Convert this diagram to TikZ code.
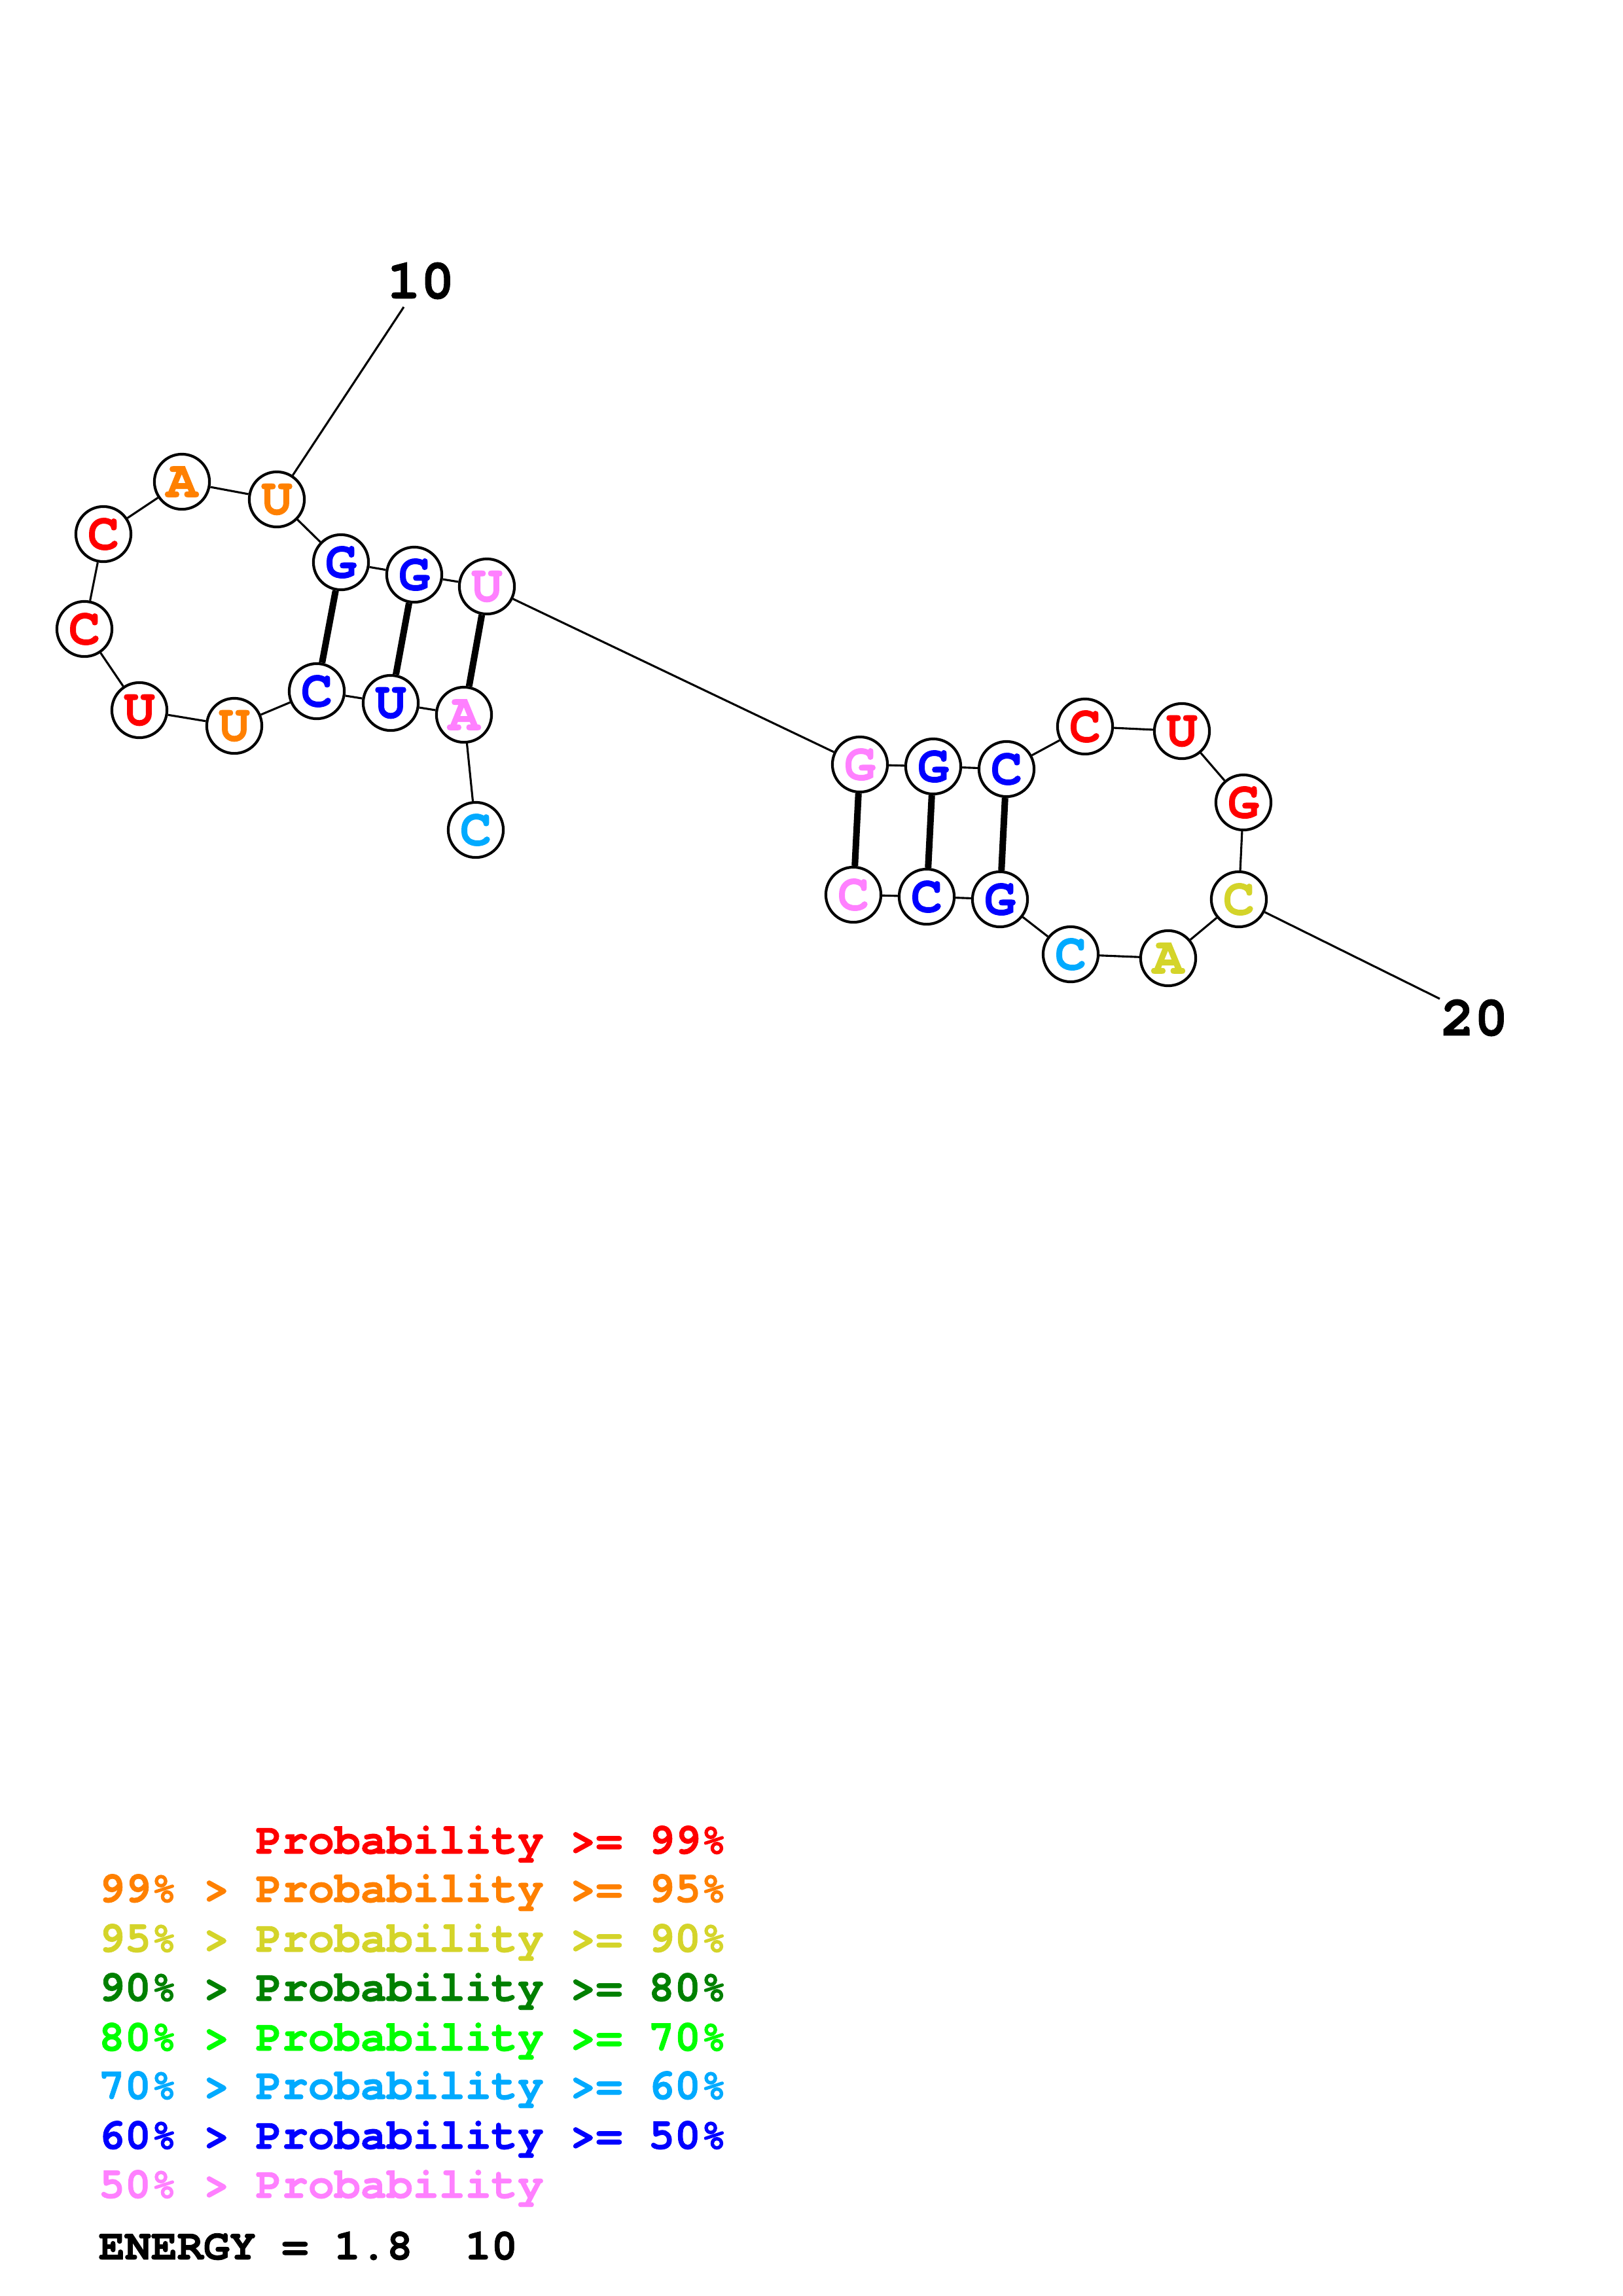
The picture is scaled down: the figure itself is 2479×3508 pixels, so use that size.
\documentclass[tikz,border=0pt]{standalone}
\usepackage{fontspec}
\newfontfamily\cour[BoldFeatures={FakeBold=1.2}]{TeX Gyre Cursor}
\definecolor{pRed}{RGB}{255,0,0}
\definecolor{pOrange}{RGB}{255,128,0}
\definecolor{pYellow}{RGB}{212,212,42}
\definecolor{pDGreen}{RGB}{0,128,0}
\definecolor{pGreen}{RGB}{0,255,0}
\definecolor{pCyan}{RGB}{0,170,255}
\definecolor{pBlue}{RGB}{0,0,255}
\definecolor{pPink}{RGB}{255,128,255}
\begin{document}
\begin{tikzpicture}[x=0.24bp,y=-0.24bp,
  nt/.style={circle,draw=black,line width=1bp,fill=white,minimum size=20.2bp,inner sep=0pt,
    font=\cour\bfseries\fontsize{19.2bp}{19.2bp}\selectfont},
  bb/.style={line width=0.75bp},
  pr/.style={line width=2.4bp},
  lab/.style={inner sep=0pt,font=\cour\bfseries\fontsize{20.6bp}{20.6bp}\selectfont},
  leg/.style={anchor=base west,inner sep=0pt,font=\cour\bfseries\fontsize{16bp}{16bp}\selectfont}]
\useasboundingbox (0,0) rectangle (2479,3508);
% nucleotides
\node[nt,text=pCyan]   (n1)  at (727,1268) {C};
\node[nt,text=pPink]   (n2)  at (709,1092) {A};
\node[nt,text=pBlue]   (n3)  at (597,1074) {U};
\node[nt,text=pBlue]   (n4)  at (484,1056) {C};
\node[nt,text=pOrange] (n5)  at (358,1109) {U};
\node[nt,text=pRed]    (n6)  at (213,1085) {U};
\node[nt,text=pRed]    (n7)  at (129,961)  {C};
\node[nt,text=pRed]    (n8)  at (158,816)  {C};
\node[nt,text=pOrange] (n9)  at (278,736)  {A};
\node[nt,text=pOrange] (n10) at (423,763)  {U};
\node[nt,text=pBlue]   (n11) at (521,859)  {G};
\node[nt,text=pBlue]   (n12) at (633,878)  {G};
\node[nt,text=pPink]   (n13) at (744,896)  {U};
\node[nt,text=pPink]   (n14) at (1314,1168) {G};
\node[nt,text=pBlue]   (n15) at (1426,1171) {G};
\node[nt,text=pBlue]   (n16) at (1538,1175) {C};
\node[nt,text=pRed]    (n17) at (1658,1110) {C};
\node[nt,text=pRed]    (n18) at (1806,1117) {U};
\node[nt,text=pRed]    (n19) at (1900,1226) {G};
\node[nt,text=pYellow] (n20) at (1893,1374) {C};
\node[nt,text=pYellow] (n21) at (1785,1464) {A};
\node[nt,text=pCyan]   (n22) at (1636,1458) {C};
\node[nt,text=pBlue]   (n23) at (1528,1374) {G};
\node[nt,text=pBlue]   (n24) at (1416,1370) {C};
\node[nt,text=pPink]   (n25) at (1304,1367) {C};
% backbone
\foreach \a/\b in {1/2,2/3,3/4,4/5,5/6,6/7,7/8,8/9,9/10,10/11,11/12,12/13,13/14,14/15,15/16,16/17,17/18,18/19,19/20,20/21,21/22,22/23,23/24,24/25}
  \draw[bb] (n\a) -- (n\b);
% base pairs
\foreach \a/\b in {11/4,12/3,13/2,14/25,15/24,16/23}
  \draw[pr] (n\a) -- (n\b);
% position labels
\node[lab] (l10) at (643,429) {10};
\coordinate (e10) at (617,469);
\draw[bb] (n10) -- (e10);
\node[lab] (l20) at (2253,1555) {20};
\coordinate (e20) at (2200,1526);
\draw[bb] (n20) -- (e20);
% legend
\node[leg,text=pRed]    (g1) at (150,2832) {\hphantom{99\%~>~}Probability~>=~99\%};
\node[leg,text=pOrange] (g2) at (150,2906) {99\%~>~Probability~>=~95\%};
\node[leg,text=pYellow] (g3) at (150,2982) {95\%~>~Probability~>=~90\%};
\node[leg,text=pDGreen] (g4) at (150,3057) {90\%~>~Probability~>=~80\%};
\node[leg,text=pGreen]  (g5) at (150,3133) {80\%~>~Probability~>=~70\%};
\node[leg,text=pCyan]   (g6) at (150,3207) {70\%~>~Probability~>=~60\%};
\node[leg,text=pBlue]   (g7) at (150,3283) {60\%~>~Probability~>=~50\%};
\node[leg,text=pPink]   (g8) at (150,3358) {50\%~>~Probability};
\node[leg,text=black]   (en) at (150,3452) {ENERGY~=~1.8~~10};
\end{tikzpicture}
\end{document}
